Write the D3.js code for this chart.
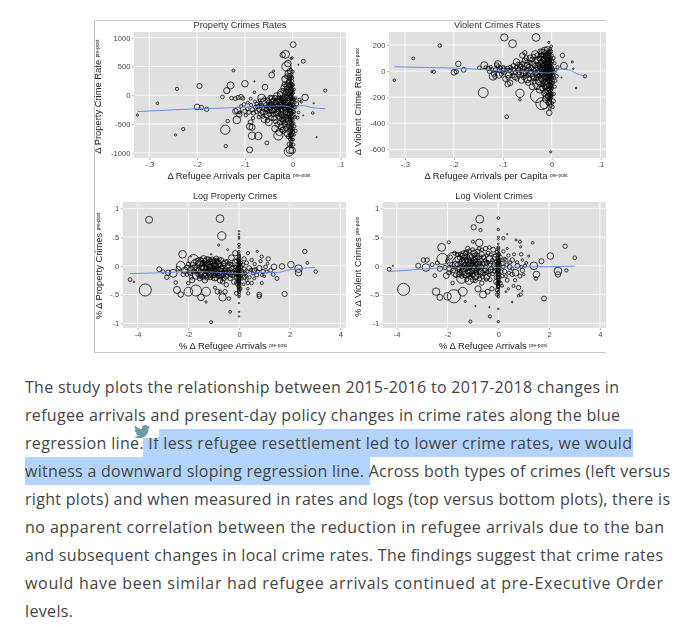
<!DOCTYPE html>
<html><head><meta charset="utf-8">
<script src="https://cdnjs.cloudflare.com/ajax/libs/d3/7.8.5/d3.min.js"></script>
<style>html,body{margin:0;padding:0;background:#fff}svg{display:block}</style>
</head><body><svg id="c" width="679" height="625"></svg>
<script>
// [x, y, size]
const propertyRatePoints = [[-.325,-345,1],[-.283,-140,1.2],[-.242,110,1.5],[-.245,-690,1],[-.229,-590,1.5],[-.2,-205,2.6],[-.195,160,2.3],[-.191,-215,2],[-.18,-245,2],[-.147,-30,1.7],[-.141,-600,4.2],[-.14,-885,1.5],[-.136,-450,1.6],[-.138,80,2.8],[-.13,170,3.2],[-.124,430,1.3],[-.1,200,3],[-.09,-950,2.7],
[-.128,-50,1.6],[-.12,-60,1.8],[-.114,-40,2],[-.108,-30,2.2],[-.104,-55,1.7],[-.12,-280,2.5],[-.115,-265,3],[-.112,-335,2.6],[-.117,-430,3.5],[-.11,-300,1.5],[-.1,-280,2],[-.095,-240,1.6],[-.088,-60,1.3],[-.09,-545,3],[-.088,-470,2.2],[-.085,-560,2.8],[-.085,-705,3.4],[-.072,-710,3.4],[-.082,-310,2],[-.078,-210,1.8],[-.08,50,1.2],[-.08,240,.6],[-.058,140,2.6],[-.065,-50,3.6],[-.06,-130,4],[-.054,-830,1.8],[-.044,350,2.6],[-.04,420,1],
[-.075,-150,1.5],[-.07,-250,2.2],[-.068,-330,1.8],[-.066,-180,2],[-.063,-290,2.6],[-.06,-420,2.8],[-.058,-230,3],[-.055,-350,2.4],[-.052,-90,2.2],[-.05,-200,2.8],[-.05,-470,3.2],[-.048,-280,1.8],[-.046,-160,2],[-.045,-400,2.2],[-.043,-60,2.8],[-.042,-240,3.6],[-.04,-330,2.2],[-.038,-120,3.2],[-.037,-580,3],[-.036,-460,1.8],[-.034,-210,2.6],[-.033,-20,3.4],[-.032,-300,2.8],[-.03,-700,4.2],[-.03,-140,4.4],[-.028,-640,3.2],[-.028,-400,2],[-.026,-80,3],[-.025,-240,2.4],[-.024,-550,2.6],[-.023,-340,2.8],[-.022,30,4.4],[-.022,-170,3],[-.021,700,2.4],[-.02,-610,2.8],[-.02,-450,2.2],[-.019,-60,2.2],[-.018,-280,3.6],[-.018,130,3],[-.017,-510,2.4],[-.016,280,3],[-.016,-130,2.6],[-.015,-380,2.4],[-.015,710,3.6],[-.014,60,2.4],[-.013,-220,3],[-.013,500,4.2],[-.012,-20,2.4],[-.012,-670,2.6],[-.011,160,3.2],[-.011,-320,2.2],[-.01,380,2.6],[-.01,-430,2.8],[-.01,550,3],[-.009,-100,2.6],[-.009,-540,2],[-.008,-980,4.2],[-.008,240,2.2],[-.007,90,3.2],[-.007,-250,2.4],[-.006,-950,3.4],[-.006,420,2.4],[-.005,-760,1.8],[-.005,-30,2.2],[.001,880,2.6],[-.001,-960,3],[-.001,650,1],[-.003,640,1],[.022,590,1.8],[.026,-40,3],[.068,80,1.4],[.042,-310,1.2],[.044,-140,.6],[.05,-730,.6],[.022,-350,.5],[.012,530,.5],[.005,-210,1.6],[.008,-150,2],[.012,-300,1.2],[.014,-80,1.4],[.018,-120,1],[.01,-390,1.4],[.006,-620,1.5],
[-.005,-890,1.3],[-.004,-840,1.3],[.001,-860,1.5],[-.003,-800,1.4],[.001,-770,1.2],[-.004,-730,1.4],[-.001,-690,1.5],[-.005,-660,1.3],[.002,-640,1.2],[-.003,-610,1.4],[0,-580,1.5],[-.005,-550,1.4],[-.002,-520,1.4],[.002,-490,1.3],[-.004,-460,1.5],[0,-430,1.4],[-.006,-400,1.4],[-.002,-370,1.5],[.002,-340,1.4],[-.004,-320,1.4],[0,-290,1.5],[-.006,-260,1.5],[-.002,-240,1.4],[.003,-215,1.3],[-.004,-190,1.5],[0,-165,1.5],[-.006,-140,1.4],[-.002,-115,1.5],[.002,-90,1.2],[-.004,-65,1.5],[0,-40,1.4],[-.005,-15,1.4],[-.002,10,1.5],[.001,40,1.3],[-.004,65,1.4],[-.001,90,1.5],[-.005,120,1.4],[-.002,150,1.3],[.001,180,1.3],[-.004,210,1.4],[-.001,245,1.4],[-.005,280,1.4],[-.002,320,1.3],[-.003,360,1.5],[0,410,1.3],[-.004,450,1.2]];
const propertyRateExtra = [[-.108,-190,1.4],[-.102,-160,1.6],[-.098,-350,1.5],[-.094,-130,1.3],[-.092,-300,1.7],[-.087,-170,1.5],[-.084,-250,2],[-.083,-400,1.5],[-.079,-110,1.4],[-.076,-290,1.7],[-.073,-200,2],[-.071,-380,1.6],[-.069,-90,1.5],[-.067,-140,1.7],[-.064,-220,2.2],[-.062,-370,1.7],[-.059,-60,1.7],[-.057,-300,2],[-.056,-170,2.2],[-.054,-250,2],[-.053,-440,2],[-.051,-130,2],[-.049,-330,2],[-.047,-40,2],[-.047,-230,2.4],[-.044,-170,2.4],[-.044,-290,2],[-.041,-100,2.2],[-.041,-190,2.4],[-.039,-260,2.4],[-.039,-400,2.2],[-.037,-50,2.4],[-.036,-160,2.2],[-.035,-320,2.4],[-.034,-100,2.4],[-.033,-240,2.2],[-.032,-510,2.4],[-.031,-190,2.4],[-.03,-60,2.4],[-.03,-280,2.2],[-.029,-370,2.4],[-.028,-120,2.6],[-.027,-210,2.2],[-.027,-480,2.2],[-.026,20,2.4],[-.025,-320,2.4],[-.024,-150,2.2],[-.024,-50,2.2],[-.023,-420,2.2],[-.022,-260,2.2],[-.022,-600,2.2],[-.021,-100,2.4],[-.02,70,2.2],[-.02,-190,2.2],[-.019,-350,2.2],[-.019,-130,2.2],[-.018,-30,2.2],[-.018,-410,2],[-.017,-230,2.2],[-.017,190,2.2],[-.016,30,2.2],[-.016,-480,2.2],[-.015,-300,2.2],[-.015,-80,2.2],[-.014,-170,2.2],[-.014,-580,2.2],[-.013,110,2.2],[-.013,-380,2],[-.012,330,2.2],[-.012,-270,2],[-.011,-130,2.2],[-.011,-490,2.2],[-.01,30,2.2],[-.01,210,2.2],[-.01,-210,2.2],[-.009,-360,2],[-.009,-720,2],[-.009,140,2.2],[-.008,-60,2],[-.008,-630,2],[-.008,300,2],[-.007,-180,2],[-.007,-470,2],[-.007,20,2],[-.007,-850,2],[-.006,-320,2],[-.006,180,2],[-.006,-580,2],[-.006,-70,2],[-.006,340,2],[-.005,-220,1.8],[-.005,-700,1.8],[-.005,60,1.8],[-.005,-430,1.8],[.005,-380,1.2],[.004,-130,1.4],[.004,-540,1.2],[.006,-50,1.2],[.003,-690,1.2],[.003,100,1.2],[.003,-290,1.4],[.003,-70,1.3],[-.004,-350,1.4],[-.003,-180,1.5],[-.003,-480,1.4],[-.003,-70,1.4],[-.003,-270,1.4],[-.003,30,1.4],[-.003,130,1.4],[-.003,-570,1.4],[-.003,-700,1.4],[-.003,-860,1.4],[-.002,-410,1.4],[-.002,-630,1.4],[-.002,-150,1.4],[-.001,-770,1.4],[-.001,-320,1.4],[-.001,-500,1.4],[-.001,-60,1.4],[-.001,-220,1.4],[-.001,-600,1.4],[-.001,50,1.4],[-.001,170,1.4],[-.001,300,1.4]];
const propertyRateLineX = [-.325,-.25,-.2,-.15,-.1,-.05,-.02,-.006,0,.008,.02,.04,.068];
const propertyRateLineY = [-285,-255,-235,-225,-210,-190,-185,-205,-230,-195,-180,-215,-235];

const violentRatePoints = [[-.322,-70,1.2],[-.283,97,1.3],[-.229,195,1.6],[-.245,-5,1],[-.241,-5,1.5],[-.2,-10,2.6],[-.195,-5,2],[-.191,55,2.5],[-.18,10,2.2],[-.148,25,1.7],[-.14,-165,4.5],[-.138,45,3.2],[-.097,258,3.3],[-.08,210,3.6],[-.032,258,3.5],[-.065,-170,3.8],[-.065,-220,1.1],[-.092,-350,1.7],[-.006,220,1],[-.005,-320,2.5],[-.002,-620,1],[.022,120,2],[.025,40,3.2],[.042,70,1],[.044,18,.7],[.05,-130,.7],[.068,-40,1.5],[.02,-50,.5],[-.03,-190,6],[-.02,-250,5.5],[-.015,-255,4],[-.09,-100,2.5],[-.085,-90,2.5],[-.05,-60,3.5],[-.03,-100,4],[-.06,120,2.5],[-.055,140,2],[-.11,55,3],[-.12,-40,3.5],
[-.13,20,2],[-.125,30,1.6],[-.118,-20,2.4],[-.115,10,1.8],[-.112,45,2.2],[-.108,-30,3],[-.105,25,1.8],[-.1,-10,1.6],[-.098,15,2.2],[-.095,-60,2.4],[-.09,20,2],[-.088,-30,2.8],[-.085,30,1.8],[-.082,-15,1.6],[-.078,40,2.2],[-.075,-45,2.6],[-.072,70,3],[-.07,5,1.8],[-.068,-25,2.4],[-.065,50,2.2],[-.062,-70,2.8],[-.06,20,2],[-.058,-10,3],[-.055,80,2.4],[-.053,-35,2.2],[-.05,45,2.6],[-.048,-90,2.4],[-.046,15,2.2],[-.044,100,2.8],[-.042,-20,3],[-.04,-120,2.6],[-.038,55,2.2],[-.036,-50,2.8],[-.034,130,3.2],[-.032,10,2.4],[-.03,-30,2.6],[-.028,85,3],[-.026,-75,3.6],[-.025,40,2],[-.024,-140,3.4],[-.022,110,2.8],[-.021,-15,2.2],[-.02,60,3],[-.019,-100,2.4],[-.018,140,3.4],[-.017,20,2.4],[-.016,-60,3],[-.015,95,2.6],[-.014,-170,3],[-.014,155,3.4],[-.013,-25,2.2],[-.012,50,2.6],[-.012,-120,2.4],[-.011,120,2.6],[-.011,-215,3.4],[-.01,10,2.4],[-.01,75,2.8],[-.01,-80,2.6],[-.009,165,2.8],[-.009,-45,2.4],[-.008,30,2.4],[-.008,-150,2.6],[-.008,105,2.6],[-.007,-195,2.4],[-.007,135,2.2],[-.006,-240,2.8],[-.006,60,2.2],[-.005,-110,2.2],[.002,-275,1.5],[.003,-230,2],[.004,-175,1.6],[.006,-120,1.5],[.008,-75,1.3],[.01,-40,1.6],[.012,30,1.4],[.006,60,1.3],[.004,100,1.4],
[-.004,-290,1.2],[-.002,-265,1.4],[.001,-245,1.3],[-.004,-220,1.5],[-.001,-200,1.5],[.001,-180,1.4],[-.004,-160,1.5],[-.001,-145,1.4],[-.005,-125,1.5],[-.002,-110,1.4],[.001,-95,1.5],[-.004,-80,1.5],[-.002,-65,1.5],[.002,-50,1.4],[-.004,-35,1.5],[-.001,-20,1.5],[.002,-8,1.4],[-.005,5,1.5],[-.002,18,1.5],[.001,30,1.4],[-.004,45,1.5],[-.002,60,1.5],[.001,75,1.4],[-.005,90,1.5],[-.002,105,1.4],[0,120,1.4],[-.004,135,1.5],[-.001,150,1.4],[-.003,170,1.3],[-.001,190,1.2]];
const violentRateExtra = [[-.135,28,1.6],[-.127,-5,1.8],[-.122,15,1.5],[-.116,-40,2],[-.11,35,1.6],[-.107,5,2],[-.103,-25,1.8],[-.099,30,1.6],[-.096,-15,1.6],[-.093,10,1.6],[-.089,-50,2],[-.086,5,1.8],[-.083,20,1.6],[-.08,-35,2],[-.077,10,1.8],[-.074,-10,2],[-.073,30,1.6],[-.071,-60,2],[-.069,55,1.8],[-.067,15,1.8],[-.066,-15,1.8],[-.063,35,2],[-.061,-30,2],[-.059,60,2],[-.057,-50,2],[-.056,25,2],[-.054,-15,2],[-.052,100,2.2],[-.051,5,2],[-.049,70,2],[-.048,-30,2],[-.047,35,2],[-.045,-60,2],[-.044,60,2],[-.043,-5,2],[-.041,25,2],[-.04,90,2],[-.039,-40,2.2],[-.037,10,2.2],[-.037,110,2.2],[-.035,-80,2.2],[-.034,40,2.2],[-.033,-15,2.2],[-.032,75,2.2],[-.031,-55,2.2],[-.03,25,2.2],[-.029,120,2.4],[-.028,-10,2.2],[-.027,50,2.2],[-.026,5,2.2],[-.025,-40,2.2],[-.025,95,2.2],[-.024,-100,2.2],[-.023,30,2.2],[-.023,150,2.4],[-.022,-20,2.2],[-.022,65,2.2],[-.021,-60,2.2],[-.02,10,2.2],[-.02,125,2.2],[-.019,-130,2.4],[-.019,40,2.2],[-.018,-30,2.2],[-.018,85,2.2],[-.017,-80,2.2],[-.017,-5,2.2],[-.016,55,2.2],[-.016,120,2.2],[-.015,25,2.2],[-.015,-120,2.2],[-.015,-40,2.2],[-.014,70,2.2],[-.014,-5,2],[-.013,-85,2.2],[-.013,110,2.2],[-.013,35,2],[-.012,-50,2.2],[-.012,145,2],[-.012,5,2],[-.011,-15,2],[-.011,60,2],[-.011,-160,2.2],[-.01,-45,2],[-.01,40,2],[-.01,130,2],[-.01,-120,2],[-.009,-10,2],[-.009,85,2],[-.009,-190,2],[-.008,-70,2],[-.008,60,2],[-.008,5,2],[-.007,-30,2],[-.007,85,2],[-.007,-110,2],[-.007,-240,2],[-.006,25,2],[-.006,-60,2],[-.006,120,2],[-.006,-165,2],[-.005,-15,1.8],[-.005,45,1.8],[-.005,-75,1.8],[-.005,150,1.8],[-.005,-205,1.8],[-.003,-40,1.5],[-.003,20,1.5],[-.003,-100,1.5],[-.003,80,1.5],[-.003,-150,1.5],[-.003,-210,1.5],[-.002,-30,1.5],[-.002,35,1.5],[-.002,-85,1.5],[-.002,-130,1.5],[-.002,90,1.5],[-.002,-190,1.5],[-.001,-50,1.5],[-.001,5,1.5],[-.001,50,1.5],[-.001,-115,1.5],[-.001,-170,1.5],[.001,-60,1.4],[.001,-20,1.4],[.001,10,1.4],[.001,-130,1.4],[.003,-90,1.3],[.003,-30,1.3],[.003,15,1.4],[.005,-50,1.3],[.006,-10,1.4],[.008,10,1.3]];
const violentRateLineX = [-.322,-.25,-.2,-.15,-.1,-.05,-.02,-.006,.005,.02,.035,.05,.068];
const violentRateLineY = [33,27,23,14,2,-5,-12,-15,-5,16,10,-18,-40];

const logPropertyPoints = [[-3.55,.8,3.2],[-.75,.82,3.5],[-.68,.52,3.8],[-3.7,-.42,5.5],[-4.3,-.24,1.7],[-4.15,-.28,.7],[-1.1,-.98,1.4],[-.35,-.8,1.3],[-2.23,.2,3.5],[-2.45,-.42,3.2],[-2.3,-.5,2.5],[-2,-.45,4],[-1.7,-.43,5],[-1.3,-.45,4],[-1.5,-.55,3],[-1.3,-.63,1],[2.6,.25,2],[2.7,.05,1.3],[3.03,-.1,1.6],[2.35,-.05,3.5],[2.35,-.12,3],[2.05,.02,3],[1.7,-.01,2.5],[1.8,-.49,2.4],[.8,-.5,2.2],[.8,-.53,2],[1.15,.12,2],[-3.15,-.06,2.2],[-3,-.1,1.6],[-2.85,-.2,2],[-2.8,-.12,2.4],[-2.6,-.13,3.6],[-2.5,-.29,1.6],[-2.3,0,4],[-2.15,-.08,3],[-1.9,.16,.6],[-1.8,.1,5],[-1.65,0,6.5],[-1.45,-.1,5.5],[-1.9,-.07,3],[-1.7,-.17,3.4],[-1.55,.07,4],[-1.4,.12,3],[-1.25,.07,4.4],[-1.2,-.02,3.8],[-1.1,-.13,4.2],[-1.05,.06,3],[-.95,-.2,3.4],[-.9,.13,2],[-.85,.02,3.4],[-.8,-.1,3.8],[-.75,-.25,2.6],[-.7,.1,2.2],[-.65,-.55,3.4],[-.55,.05,2.8],[-.5,-.18,2.6],[-.5,-.33,2],[-.45,.28,.9],[-.4,-.57,1.6],[-.3,.14,2.6],[-.25,-.05,2.4],[-.2,-.28,2.2],[-.15,.22,2.4],[-.1,.05,3.8],[-.8,.36,1],[-1.1,.2,.7],[-.85,-.45,2.2],[-.95,-.38,1.4],[-1.35,-.25,2.6],[-1.55,-.22,2.2],[-1.85,-.25,2.4],[-2.05,-.15,1.8],[-2,-.3,1.6],[-.55,-.45,2],[-.75,-.45,1.5],
[-1.6,-.08,2.6],[-1.5,-.13,2.8],[-1.38,-.03,3],[-1.32,-.17,2.6],[-1.28,.02,2.4],[-1.2,-.1,2.8],[-1.15,.03,2.8],[-1.12,-.2,2.2],[-1,-.07,2.8],[-.98,0,2.6],[-.92,-.14,2.2],[-.88,.07,2.2],[-.8,-.18,2.4],[-.78,.03,2.2],[-.72,-.05,2.6],[-.68,-.14,2.4],[-.62,.04,2.2],[-.6,-.22,2.2],[-.55,-.09,2.4],[-.45,0,2.2],[-.42,-.12,2.2],[-.35,-.22,2],[-.32,.03,1.8],[-.28,-.12,2],[-1.75,-.03,2.6],[-1.45,.03,2.4],[-1.08,-.07,2.2],[-1.3,-.09,2],[-.9,-.05,2],[-.65,-.28,2],
[-.12,-.2,1.8],[-.1,-.48,1.8],[-.08,-.3,2.2],[.35,.22,1.5],[.72,.25,1],[.9,.16,1.5],[1.13,.04,1.2],[.2,.12,2],[.3,.05,1.8],[.4,-.04,2.2],[.5,.1,1.6],[.6,-.08,2.2],[.7,-.16,1.8],[.8,-.04,2.4],[.85,.08,1.5],[.95,-.1,2],[1.05,-.02,1.7],[1.25,-.08,1.8],[1.35,-.15,1.7],[1.5,-.22,1.8],[1.38,-.02,2.6],[.5,-.3,1.6],[.6,-.22,1.3],[.35,-.3,1.6],[.2,-.2,2],[.9,-.3,1.4],[.36,-.48,1.5],[.35,-.4,1.2],[.28,-.18,1.4],[.1,-.1,2],[.15,.02,1.6],[.18,-.32,1.3],[.05,-.4,1.6],[.06,.05,1.8],
[0,.6,.7],[0,.55,.7],[0,.5,.8],[0,.47,.6],[0,.37,1.2],[0,.32,1],[0,-.65,.7],[0,-.8,.7],[0,-.88,.7],[0,.25,1],[0,.2,1.2],[0,.17,1.5],[0,.14,1.4],[0,.11,1.5],[0,.08,1.6],[0,.05,1.5],[0,.02,1.7],[0,-.01,1.6],[0,-.04,1.7],[0,-.07,1.6],[0,-.1,1.7],[0,-.13,1.6],[0,-.16,1.7],[0,-.19,1.6],[0,-.22,1.7],[0,-.25,1.6],[0,-.28,1.6],[0,-.31,1.5],[0,-.34,1.5],[0,-.37,1.5],[0,-.4,1.5],[0,-.43,1.4],[0,-.46,1.4],[0,-.5,1.3],[0,-.54,1]];
const logPropertyExtra = [[-2.4,-.05,2],[-2.2,-.15,2],[-2.05,-.03,2.2],[-2,.03,1.8],[-1.95,-.12,2],[-1.88,-.2,1.8],[-1.82,.02,2.2],[-1.78,-.1,2.2],[-1.72,.07,2],[-1.68,-.06,2.2],[-1.62,-.15,2],[-1.6,.05,2.2],[-1.58,-.02,2],[-1.53,-.18,2],[-1.5,.1,2],[-1.47,-.03,2.2],[-1.44,-.2,2],[-1.42,.06,2],[-1.4,-.1,2],[-1.36,.02,2],[-1.35,-.14,2],[-1.33,.09,2],[-1.3,-.03,2],[-1.27,-.21,2],[-1.26,-.11,2],[-1.24,.12,1.8],[-1.22,-.06,2],[-1.2,.06,2],[-1.18,-.15,2],[-1.16,-.01,2],[-1.14,.1,1.8],[-1.12,-.08,2],[-1.1,-.02,2],[-1.08,-.16,2],[-1.06,.12,1.8],[-1.04,-.05,2],[-1.02,-.12,2],[-1.01,.02,2],[-.98,-.17,2],[-.97,.1,1.8],[-.95,-.08,2],[-.93,.02,2],[-.91,-.22,1.8],[-.9,-.11,2],[-.87,.1,1.8],[-.86,-.03,2],[-.84,-.15,2],[-.82,.06,1.8],[-.8,-.05,2],[-.77,-.13,2],[-.76,.12,1.6],[-.73,.01,1.8],[-.71,-.2,1.8],[-.7,-.08,2],[-.66,-.02,1.8],[-.64,-.1,1.8],[-.62,-.17,1.8],[-.58,.01,1.8],[-.56,-.13,1.8],[-.52,-.05,1.8],[-.5,-.1,1.8],[-.48,.08,1.6],[-.46,-.17,1.6],[-.44,-.07,1.6],[-.4,.04,1.6],[-.38,-.15,1.6],[-.34,-.06,1.6],[-.3,-.17,1.6],[-.26,.02,1.6],[-.24,-.1,1.6],[-.22,-.18,1.6],[-.18,-.08,1.6],[-.16,-.02,1.6],[-.14,-.12,1.6],[-.12,.08,1.6],[-.1,-.15,1.6],[-.08,-.08,1.6],[-.06,-.22,1.5],[-.05,.02,1.6],[-.05,-.14,1.6],[-.04,-.3,1.5],[-.03,-.07,1.6],[-.03,.1,1.5],[-.03,-.18,1.6],[-.02,-.36,1.5],[-.02,-.03,1.6],[-.02,-.12,1.6],[-.01,-.26,1.5],[-.01,.06,1.5],[.02,-.15,1.6],[.02,-.05,1.6],[.02,-.3,1.5],[.03,-.2,1.5],[.04,.02,1.6],[.05,-.1,1.6],[.07,-.18,1.5],[.09,-.02,1.5],[.12,-.22,1.5],[.15,-.12,1.5],[.2,-.05,1.6],[.25,-.13,1.5],[.3,-.25,1.4],[.33,-.1,1.6],[.42,-.2,1.5],[.47,-.07,1.5],[.55,-.13,1.5],[.62,.03,1.5],[.66,-.06,1.5],[.74,-.1,1.5],[.9,-.16,1.3],[1,-.18,1.2],[1.1,-.1,1.4]];
const logPropertyLineX = [-4.3,-3,-2,-1,-.3,0,.5,1,1.5,2,3];
const logPropertyLineY = [-.135,-.12,-.1,-.11,-.13,-.135,-.125,-.115,-.115,-.07,-.03];

const logViolentPoints = [[-3.73,-.41,5.5],[-4.3,-.06,1.8],[-4.15,0,.6],[-.73,.81,3.6],[-.97,.67,2.4],[-.7,.62,1.5],[-3.15,0,2.3],[-2.95,.1,2],[-2.8,.1,2],[-2.85,-.03,3.5],[-2.5,-.17,1.7],[-2.45,-.45,3.4],[-2.3,-.55,2.7],[-2.23,.32,3.6],[-2.2,.12,5],[-2,-.53,3.5],[-1.75,-.53,6],[-1.95,.41,1.4],[-1.75,.1,7],[-1.4,-.45,4],[-1.3,-.62,1],[-.9,-.7,.6],[-1.1,-.97,1.4],[-.33,-.88,1.4],[-.35,-.72,.6],[0,-.97,1],[0,-.75,.7],[0,.83,1.2],[0,.63,1.1],[2.63,.34,2],[3.01,.14,1.7],[2.68,-.08,1.5],[2.35,-.09,3.5],[2.35,-.15,2.5],[2.05,.17,3],[1.7,.08,2.3],[1.8,-.57,2.2],[1.5,-.15,3],[1.4,0,3.5],[1.48,-.22,1.6],[.55,-.63,.7],[.8,-.38,2],[.88,-.5,1.5],[.8,-.52,1.2],[.95,-.44,.6],[1.35,.4,1.2],[.35,.55,.6],
[-2.3,-.05,2.4],[-2.05,-.17,2.6],[-1.9,-.05,3],[-1.8,-.3,1.6],[-1.65,-.1,5],[-1.55,.05,6],[-1.45,-.22,4.4],[-1.35,.2,3.4],[-1.3,-.1,5.4],[-1.25,.05,4.4],[-1.2,.3,2],[-1.15,-.25,3.8],[-1.1,.15,3.4],[-1.05,-.05,4.8],[-1,.42,1.4],[-.95,.22,2.8],[-.9,-.18,3.2],[-.85,.05,3.8],[-.8,-.4,2.8],[-.75,.4,3.4],[-.7,-.1,3],[-.65,.2,2.4],[-.6,-.5,3.2],[-.55,.05,3],[-.5,.3,2],[-.45,-.2,2.6],[-.42,-.45,2.2],[-.35,.12,2.8],[-.3,-.07,2.4],[-.25,-.4,2],[-.2,.28,2.2],[-.15,0,2.6],[-.1,.15,3],[-.08,-.28,2.4],
[-1.6,.12,2.6],[-1.5,-.05,3],[-1.42,.08,2.8],[-1.38,-.06,2.6],[-1.32,.14,2.4],[-1.28,-.17,2.4],[-1.22,-.03,2.8],[-1.18,.1,2.8],[-1.12,-.1,2.8],[-1.08,.04,2.8],[-1.02,-.14,2.6],[-.98,.1,2.6],[-.95,-.04,2.8],[-.9,.12,2.4],[-.86,-.08,2.4],[-.82,.25,2.2],[-.78,-.02,2.6],[-.74,-.22,2.2],[-.68,.08,2.2],[-.62,-.12,2.2],[-.58,.15,2],[-.52,-.08,2.2],[-.46,.05,2.2],[-.4,.22,1.8],[-.38,-.1,2],[-.32,-.24,1.8],[-1.55,-.15,2.4],[-1.7,.02,2.8],[-1.25,.24,2],[-1,-.24,2.4],[-.65,-.3,2],[-.35,.32,1.6],[-1.48,.2,2],[-1.15,.02,2],[-.88,.02,2],
[.2,.48,1.5],[.35,.3,1],[.4,.18,1.5],[.55,.1,2],[.7,.45,1],[.85,.42,1.4],[.9,.2,1.6],[.95,.1,1.2],[1.05,0,1.5],[1.2,.17,1],[.88,.33,1],[.2,.25,1.5],[.3,.1,1.8],[.15,.04,2],[.25,-.1,2],[.35,-.25,1.8],[.45,-.02,2.2],[.55,-.15,2],[.68,-.12,3],[.75,0,2.2],[.85,-.18,1.8],[.95,-.08,2],[.6,-.35,1.4],[.4,-.4,1],[.3,-.45,.8],[.15,-.18,1.6],[.08,-.3,1.7],[.08,.15,1.8],[-.05,-.42,1.7],[-.05,-.5,1.5],
[0,.5,1],[0,.46,.8],[0,.38,.8],[0,.32,1.3],[0,.27,1.1],[0,.22,1.3],[0,.18,1.4],[0,.14,1.5],[0,.11,1.6],[0,.08,1.5],[0,.05,1.7],[0,.02,1.6],[0,-.01,1.7],[0,-.04,1.6],[0,-.07,1.7],[0,-.1,1.6],[0,-.13,1.7],[0,-.16,1.6],[0,-.19,1.7],[0,-.22,1.6],[0,-.25,1.6],[0,-.28,1.6],[0,-.31,1.5],[0,-.34,1.5],[0,-.37,1.4],[0,-.41,1.3],[0,-.46,1.2],[0,-.5,1.1],[0,-.54,1]];
const logViolentExtra = [[-2.6,.02,1.8],[-2.4,.05,1.8],[-2.1,-.03,2],[-2,.08,1.8],[-1.95,-.12,2],[-1.88,.15,1.8],[-1.82,.02,2.2],[-1.78,-.08,2.2],[-1.72,.22,1.8],[-1.68,-.16,2],[-1.62,.2,1.8],[-1.6,.02,2.2],[-1.58,-.06,2.2],[-1.53,.14,2],[-1.5,-.12,2.2],[-1.47,.04,2.2],[-1.44,-.18,2],[-1.42,.18,2],[-1.4,-.02,2.2],[-1.36,.1,2],[-1.35,-.14,2],[-1.33,.02,2],[-1.3,.22,1.8],[-1.27,-.06,2],[-1.26,.1,2],[-1.24,-.24,1.8],[-1.22,.16,2],[-1.2,-.1,2],[-1.18,.03,2],[-1.16,-.16,2],[-1.14,.26,1.8],[-1.12,.08,2],[-1.1,-.03,2],[-1.08,-.2,2],[-1.06,.16,2],[-1.04,.02,2],[-1.02,-.08,2],[-1.01,.28,1.8],[-.98,-.16,2],[-.97,.06,2],[-.95,.18,2],[-.93,-.02,2],[-.91,-.26,1.8],[-.9,.08,2],[-.87,-.12,2],[-.86,.2,1.8],[-.84,.04,2],[-.82,-.06,2],[-.8,.14,1.8],[-.77,-.18,1.8],[-.76,.3,1.6],[-.73,.04,1.8],[-.71,-.1,1.8],[-.7,.16,1.6],[-.66,-.02,1.8],[-.64,.28,1.5],[-.62,-.2,1.6],[-.58,.04,1.8],[-.56,-.14,1.6],[-.52,.1,1.6],[-.5,-.02,1.8],[-.48,-.24,1.5],[-.46,.18,1.5],[-.44,-.1,1.6],[-.4,.06,1.6],[-.36,-.16,1.6],[-.33,.02,1.6],[-.3,.2,1.5],[-.26,-.04,1.6],[-.24,.1,1.5],[-.22,-.14,1.6],[-.18,.04,1.6],[-.16,-.1,1.6],[-.14,.18,1.5],[-.12,-.04,1.6],[-.1,-.2,1.5],[-.08,.08,1.6],[-.06,-.12,1.6],[-.05,.24,1.5],[-.05,.02,1.6],[-.04,-.3,1.5],[-.03,-.05,1.6],[-.03,.14,1.6],[-.02,-.2,1.6],[-.02,.05,1.6],[-.02,-.1,1.6],[-.01,.3,1.3],[-.01,-.36,1.5],[.02,-.15,1.6],[.02,.08,1.6],[.02,-.28,1.5],[.03,.2,1.4],[.04,-.04,1.6],[.05,-.2,1.5],[.07,.02,1.5],[.09,.1,1.5],[.12,-.1,1.5],[.15,-.35,1.3],[.2,-.02,1.6],[.25,.12,1.5],[.3,-.18,1.4],[.33,.02,1.6],[.42,-.12,1.5],[.47,.06,1.5],[.55,-.05,1.5],[.62,.2,1.4],[.66,-.25,1.5],[.74,.06,1.5],[.9,-.02,1.4],[1,-.15,1.2],[1.1,.05,1.3]];
const logViolentLineX = [-4.3,-3,-2,-1,0,1,2,3];
const logViolentLineY = [-.1,-.06,-.03,-.025,-.025,-.02,-.015,-.005];

const rateXTicks = [-.3,-.2,-.1,0,.1];
const rateXLabels = ["-.3","-.2","-.1","0",".1"];
const logXTicks = [-4,-2,0,2,4];
const logYTicks = [1,.5,0,-.5,-1];
const logYLabels = ["1",".5","0","-.5","-1"];
const propertyYTicks = [1000,500,0,-500,-1000];
const violentYTicks = [200,0,-200,-400,-600];

const panelTitles = ["Property Crimes Rates","Violent Crimes Rates","Log Property Crimes","Log Violent Crimes"];
const xTitles = ["Δ Refugee Arrivals per Capita","Δ Refugee Arrivals per Capita","% Δ Refugee Arrivals","% Δ Refugee Arrivals"];
const yTitles = ["Δ Property Crime Rate","Δ Violent Crime Rate","% Δ Property Crimes","% Δ Violent Crimes"];
const supLabel = "pre-post";

const paragraphLines = [
"The study plots the relationship between 2015-2016 to 2017-2018 changes in",
"refugee arrivals and present-day policy changes in crime rates along the blue",
"regression line. If less refugee resettlement led to lower crime rates, we would",
"witness a downward sloping regression line. Across both types of crimes (left versus",
"right plots) and when measured in rates and logs (top versus bottom plots), there is",
"no apparent correlation between the reduction in refugee arrivals due to the ban",
"and subsequent changes in local crime rates. The findings suggest that crime rates",
"would have been similar had refugee arrivals continued at pre-Executive Order",
"levels."];
const paragraphWidths = [594,595,607,645,645,639,638,638,48];

const svg = d3.select("#c");
const defs = svg.append("defs");
defs.append("filter").attr("id","soft").attr("x","-5%").attr("y","-5%").attr("width","110%").attr("height","110%")
  .append("feGaussianBlur").attr("stdDeviation",0.35);

const chart = svg.append("g").attr("filter","url(#soft)");
chart.append("path").attr("d","M606,20.5H94.5V352.5H606").attr("fill","none").attr("stroke","#c8c8c8").attr("stroke-width",1);

const panels = [
 {pts:propertyRatePoints.concat(propertyRateExtra),lx:propertyRateLineX,ly:propertyRateLineY,box:[134,346,32,158],
  xd:[-.3,0],xr:[149.3,292.7],yd:[1000,-1000],yr:[37.7,152.7],xt:rateXTicks,xl:rateXLabels,yt:propertyYTicks,yl:propertyYTicks.map(String),
  yx:101,yc:96.7,xc:239,tc:240,ty:28,xy:179},
 {pts:violentRatePoints.concat(violentRateExtra),lx:violentRateLineX,ly:violentRateLineY,box:[389,606,32,158],
  xd:[-.3,0],xr:[405,551.7],yd:[200,-600],yr:[45,149.3],xt:rateXTicks,xl:rateXLabels,yt:violentYTicks,yl:violentYTicks.map(String),
  yx:361,yc:101.7,xc:496,tc:497,ty:28,xy:179},
 {pts:logPropertyPoints.concat(logPropertyExtra),lx:logPropertyLineX,ly:logPropertyLineY,box:[122.7,346,202,328],
  xd:[-4,0],xr:[137.7,239],yd:[1,-1],yr:[208.3,323.3],xt:logXTicks,xl:logXTicks.map(String),yt:logYTicks,yl:logYLabels,
  yx:102,yc:266,xc:233,tc:235,ty:199,xy:349},
 {pts:logViolentPoints.concat(logViolentExtra),lx:logViolentLineX,ly:logViolentLineY,box:[382.7,606,202,328],
  xd:[-4,0],xr:[396.7,498.3],yd:[1,-1],yr:[208.3,323.3],xt:logXTicks,xl:logXTicks.map(String),yt:logYTicks,yl:logYLabels,
  yx:361,yc:267,xc:493,tc:494,ty:199,xy:349}
];

panels.forEach((p,i)=>{
  const [x0,x1,y0,y1] = p.box;
  const x = d3.scaleLinear().domain(p.xd).range(p.xr);
  const y = d3.scaleLinear().domain(p.yd).range(p.yr);
  const g = chart.append("g");
  g.append("rect").attr("x",x0).attr("y",y0).attr("width",x1-x0).attr("height",y1-y0).attr("fill","#e0e0e0");
  g.selectAll("line.gx").data(p.xt).join("line").attr("x1",d=>x(d)).attr("x2",d=>x(d)).attr("y1",y0).attr("y2",y1).attr("stroke","#fff").attr("stroke-width",.8);
  g.selectAll("line.gy").data(p.yt).join("line").attr("y1",d=>y(d)).attr("y2",d=>y(d)).attr("x1",x0).attr("x2",x1).attr("stroke","#fff").attr("stroke-width",.8);

  const ax = d3.axisBottom(x).tickValues(p.xt).tickFormat((d,k)=>p.xl[k]).tickSize(2).tickPadding(1.5);
  const ay = d3.axisLeft(y).tickValues(p.yt).tickFormat((d,k)=>p.yl[k]).tickSize(2).tickPadding(1.5);
  const gx = g.append("g").attr("transform",`translate(0,${y1})`).call(ax);
  const gy = g.append("g").attr("transform",`translate(${x0},0)`).call(ay);
  [gx,gy].forEach(a=>{
    a.select(".domain").remove();
    a.selectAll("line").attr("stroke","#777").attr("stroke-width",.5);
    a.selectAll("text").attr("font-family","Liberation Sans").attr("font-size",7.6).attr("fill","#444");
  });

  g.selectAll("circle").data(p.pts).join("circle")
    .attr("cx",d=>x(d[0])).attr("cy",d=>y(d[1])).attr("r",d=>d[2]*1.1)
    .attr("fill","none").attr("stroke","#000").attr("stroke-width",.75);

  const line = d3.line().x((d,k)=>x(p.lx[k])).y((d,k)=>y(p.ly[k])).curve(d3.curveMonotoneX);
  g.append("path").attr("d",line(p.lx)).attr("fill","none").attr("stroke","#5a86ea").attr("stroke-width",.9);

  const tf = s=>s.attr("font-family","Liberation Sans").attr("fill","#222").attr("text-anchor","middle");
  g.append("text").call(tf).attr("x",p.tc).attr("y",p.ty).attr("font-size",9.2).attr("fill","#333").text(panelTitles[i]);
  const xt = g.append("text").call(tf).attr("x",p.xc).attr("y",p.xy).attr("font-size",9.4);
  xt.append("tspan").text(xTitles[i]+" ");
  xt.append("tspan").attr("font-size",4.8).attr("dy",-2.5).text(supLabel);
  const yt = g.append("text").call(tf).attr("transform",`translate(${p.yx},${p.yc}) rotate(-90)`).attr("font-size",9.4);
  yt.append("tspan").text(yTitles[i]+" ");
  yt.append("tspan").attr("font-size",4.8).attr("dy",-2.5).text(supLabel);
});

// highlighted sentence
const highlight = "#b3d4fc";
svg.append("rect").attr("x",143).attr("y",429).attr("width",490).attr("height",28).attr("fill",highlight);
svg.append("rect").attr("x",25).attr("y",457).attr("width",345).attr("height",28).attr("fill",highlight);

const para = svg.append("g").attr("font-family","Open Sans").attr("font-size",16).attr("fill","#444");
para.selectAll("text").data(paragraphLines).join("text")
  .attr("x",25).attr("y",(d,i)=>393+i*28).text(d=>d)
  .each(function(d,i){ d3.select(this).attr("textLength",paragraphWidths[i]).attr("lengthAdjust","spacing"); });

svg.append("rect").attr("x",143).attr("y",422).attr("width",16).attr("height",16).attr("fill","#fff");
svg.append("rect").attr("x",134).attr("y",424).attr("width",10).attr("height",13).attr("fill","#fff");
svg.append("path")
 .attr("transform","translate(134,423.5) scale(0.68)")
 .attr("fill","#6b9c9f")
 .attr("d","M24 4.6c-.9.4-1.8.7-2.8.8 1-.6 1.8-1.6 2.2-2.7-1 .6-2 1-3.1 1.2C19.3 2.8 18 2.2 16.6 2.2c-2.7 0-4.9 2.2-4.9 4.9 0 .4 0 .8.1 1.1C7.7 8 4.1 6 1.7 3c-.4.7-.7 1.6-.7 2.5 0 1.7.9 3.2 2.2 4.1-.8 0-1.6-.2-2.2-.6v.1c0 2.4 1.7 4.4 3.9 4.8-.4.1-.8.2-1.3.2-.3 0-.6 0-.9-.1.6 2 2.4 3.4 4.6 3.4-1.7 1.3-3.8 2.1-6.1 2.1-.4 0-.8 0-1.2-.1 2.2 1.4 4.8 2.2 7.5 2.2 9.1 0 14-7.5 14-14v-.6c1-.7 1.8-1.6 2.5-2.5z");
</script></body></html>
